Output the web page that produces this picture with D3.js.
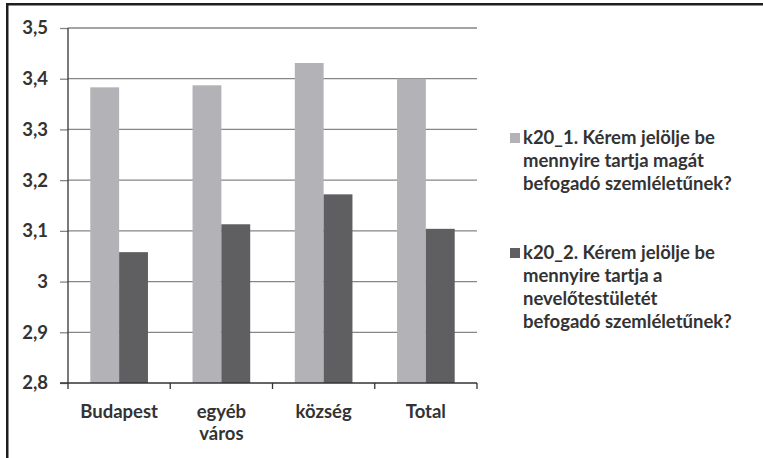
<!DOCTYPE html>
<html><head><meta charset="utf-8">
<script src="https://cdn.jsdelivr.net/npm/d3@7"></script>
<style>body{margin:0;background:#fff}svg{display:block}</style>
</head><body>
<svg id="c" width="763" height="458"></svg>
<script>
const categories = [["Budapest"], ["egyéb", "város"], ["község"], ["Total"]];
const seriesNames = ["k20_1", "k20_2"];
const series1 = [3.383, 3.387, 3.431, 3.400];
const series2 = [3.058, 3.113, 3.172, 3.104];
const yTicks = [2.8, 2.9, 3.0, 3.1, 3.2, 3.3, 3.4, 3.5];
const tickLabels = ["2,8", "2,9", "3", "3,1", "3,2", "3,3", "3,4", "3,5"];
const legendLines = [
  ["k20_1. Kérem jelölje be", "mennyire tartja magát", "befogadó szemléletűnek?"],
  ["k20_2. Kérem jelölje be", "mennyire tartja a", "nevelőtestületét", "befogadó szemléletűnek?"]
];
const colors = ["#b3b3b7", "#5f5f61"];

const svg = d3.select("#c");
const font = "Lato, 'Open Sans', sans-serif";
const fs = 18.5;
const L = 68, R = 477, T = 28, B = 383;
const catKeys = categories.map(c => c.join(" "));

const y = d3.scaleLinear().domain([2.8, 3.5]).range([B, T]);
const x0 = d3.scaleBand().domain(catKeys).range([L, R]).paddingInner(0.436).paddingOuter(0.218);
const x1 = d3.scaleBand().domain(seriesNames).range([0, x0.bandwidth()]);

// frame (top and left edges)
svg.append("rect").attr("x", 6).attr("y", 3).attr("width", 757).attr("height", 2.5).attr("fill", "#1e1e1e");
svg.append("rect").attr("x", 6).attr("y", 3).attr("width", 2.5).attr("height", 455).attr("fill", "#1e1e1e");

// gridlines + y axis ticks
const yAxis = d3.axisLeft(y).tickValues(yTicks).tickSize(8).tickFormat((d, i) => tickLabels[i]).tickPadding(12);
const ga = svg.append("g").attr("transform", `translate(${L},0)`).call(yAxis);
ga.select(".domain").remove();
ga.selectAll(".tick line").attr("stroke", "#868686").attr("stroke-width", 1.3);
ga.selectAll(".tick text").attr("font-family", font).attr("font-size", fs).attr("font-weight", 700).attr("fill", "#333");
svg.append("g").selectAll("line").data(yTicks.slice(1)).join("line")
  .attr("x1", L).attr("x2", R).attr("y1", d => y(d)).attr("y2", d => y(d))
  .attr("stroke", "#868686").attr("stroke-width", 1.3);

// bars
const rows = catKeys.map((k, i) => ({k, vals: [series1[i], series2[i]]}));
const gb = svg.append("g").selectAll("g").data(rows).join("g").attr("transform", d => `translate(${x0(d.k)},0)`);
gb.selectAll("rect").data(d => d.vals.map((v, j) => ({v, s: seriesNames[j], j}))).join("rect")
  .attr("x", d => x1(d.s)).attr("width", x1.bandwidth())
  .attr("y", d => y(d.v)).attr("height", d => y(2.8) - y(d.v))
  .attr("fill", d => colors[d.j]);

// axes lines
svg.append("line").attr("x1", L).attr("x2", L).attr("y1", T).attr("y2", B).attr("stroke", "#333").attr("stroke-width", 1.3);
svg.append("line").attr("x1", L - 8).attr("x2", R).attr("y1", B).attr("y2", B).attr("stroke", "#333").attr("stroke-width", 1.3);
const step = x0.step();
const xt = d3.range(catKeys.length + 1).map(i => L + i * step);
svg.append("g").selectAll("line").data(xt).join("line")
  .attr("x1", d => d).attr("x2", d => d).attr("y1", B).attr("y2", B + 6).attr("stroke", "#333").attr("stroke-width", 1.3);

// x labels
const gx = svg.append("g").selectAll("text").data(categories).join("text")
  .attr("x", (d, i) => x0(catKeys[i]) + x0.bandwidth() / 2).attr("y", 418)
  .attr("text-anchor", "middle").attr("font-family", font).attr("font-size", fs).attr("font-weight", 700).attr("fill", "#333");
gx.selectAll("tspan").data(d => d).join("tspan")
  .attr("x", function() { return this.parentNode.getAttribute("x"); })
  .attr("dy", (d, i) => i === 0 ? 0 : 22).text(d => d);

// legend
const legendTop = [144, 259];
legendLines.forEach((lines, j) => {
  svg.append("rect").attr("x", 510).attr("y", legendTop[j] - 11).attr("width", 10).attr("height", 10).attr("fill", colors[j]);
  const t = svg.append("text").attr("x", 523).attr("y", legendTop[j])
    .attr("font-family", font).attr("font-size", fs).attr("font-weight", 700).attr("fill", "#333");
  lines.forEach((s, i) => t.append("tspan").attr("x", 523).attr("dy", i === 0 ? 0 : 23).text(s));
});
</script>
</body></html>
